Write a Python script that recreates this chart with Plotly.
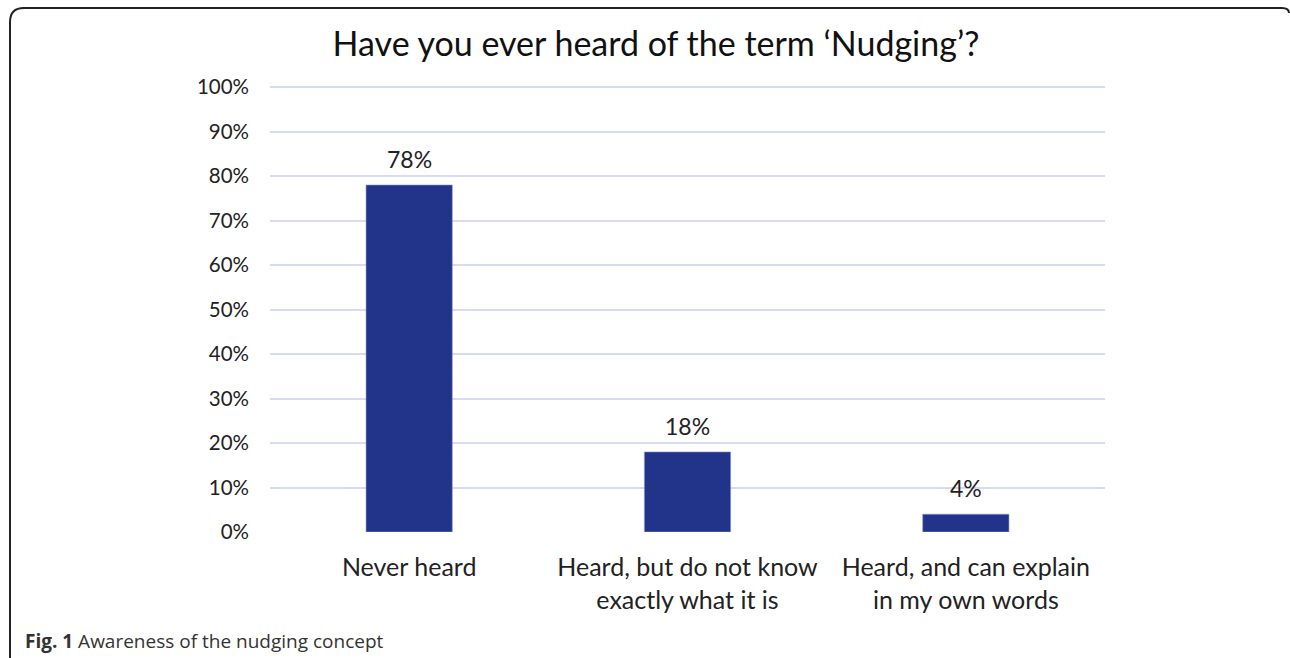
import plotly.graph_objects as go

# Survey responses
categories = ["Never heard", "Heard, but do not know<br>exactly what it is", "Heard, and can explain<br>in my own words"]
shares = [78, 18, 4]
tick_vals = [0, 10, 20, 30, 40, 50, 60, 70, 80, 90, 100]
tick_text = [f"{v}%" for v in tick_vals]

W, H = 1290, 658
L, R, T, B = 270, 185, 86, 126
Y_MAX = 100.25
FONT = "Lato, 'Open Sans', sans-serif"


def px_x(px):
    return (px - L) / (W - L - R)


def px_y(py):
    return (H - B - py) / (H - T - B)


fig = go.Figure()
fig.add_trace(go.Bar(
    x=categories,
    y=shares,
    width=0.31,
    marker=dict(color="#21348a", line=dict(color="#8f9bd0", width=0.6)),
    hoverinfo="skip",
))

annotations = [
    dict(x=c, y=v, text=f"{v}%", showarrow=False, yanchor="bottom", yshift=10,
         font=dict(family=FONT, size=23, color="#222"))
    for c, v in zip(categories, shares)
]
annotations.append(dict(
    x=px_x(23), y=px_y(641), xref="paper", yref="paper", xanchor="left", yanchor="middle",
    text="<b>Fig. 1</b> Awareness of the nudging concept", showarrow=False,
    font=dict(family="'Open Sans', sans-serif", size=19, color="#333"),
))

# Rounded frame around the figure (left, top and top-right corner)
frame = (
    f"M {px_x(10)},{px_y(665)} L {px_x(10)},{px_y(22)} "
    f"Q {px_x(10)},{px_y(8)} {px_x(24)},{px_y(8)} "
    f"L {px_x(1282)},{px_y(8)} Q {px_x(1289)},{px_y(8)} {px_x(1289)},{px_y(13)}"
)

fig.update_layout(
    width=W, height=H,
    margin=dict(l=L, r=R, t=T, b=B, autoexpand=False),
    paper_bgcolor="white", plot_bgcolor="white",
    title=dict(text="Have you ever heard of the term ‘Nudging’?", x=656 / W, xanchor="center",
               y=1 - 44 / H, yanchor="middle", xref="container", yref="container",
               font=dict(family=FONT, size=34, color="#111")),
    xaxis=dict(showgrid=False, showline=False, ticks="", tickfont=dict(family=FONT, size=25, color="#222"),
               ticklabelstandoff=18, fixedrange=True),
    yaxis=dict(range=[0, Y_MAX], tickvals=tick_vals, ticktext=tick_text, showgrid=True,
               gridcolor="#d6daf3", gridwidth=1.6, zeroline=False, showline=False, ticks="",
               ticklabelstandoff=20, tickfont=dict(family=FONT, size=20.5, color="#222"), fixedrange=True),
    annotations=annotations,
    shapes=[dict(type="path", path=frame, xref="paper", yref="paper",
                 line=dict(color="#222", width=2), layer="above")],
    showlegend=False,
)

fig.write_html("out.html")
